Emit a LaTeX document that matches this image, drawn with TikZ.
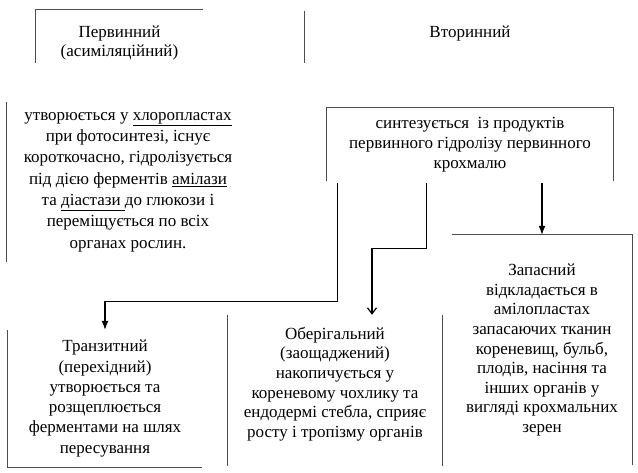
\documentclass[tikz,border=0pt]{standalone}
\usepackage{fontspec}
\setmainfont{Liberation Serif}
\usetikzlibrary{arrows.meta, positioning}

\begin{document}
\begin{tikzpicture}[x=1pt, y=-1pt]
\tikzstyle{box}=[inner sep=0pt, align=center, font=\fontsize{17}{20}\selectfont]
\tikzstyle{frame}=[-, draw=black!70, line width=0.8pt]
\tikzstyle{connect}=[-, black, line width=1.2pt]
\tikzstyle{fulltip}=[-{Latex[length=9pt, width=7pt]}]
\tikzstyle{opentip}=[-{Straight Barb[length=6pt, width=9pt]}]
\useasboundingbox (0,0) rectangle (638,473);
\node[box, font=\fontsize{17}{19}\selectfont, minimum width=167pt, minimum height=65pt] (prim) at (119.5,42.5) {Первинний\\(асиміляційний)};
\node[box, minimum width=330pt, minimum height=44pt] (sec) at (470,33) {Вторинний};
\node[box, font=\fontsize{17}{21.3}\selectfont, minimum width=242pt, minimum height=160pt] (first) at (128,182) {утворюється у \underline{хлоропластах}\\при фотосинтезі, існує\\короткочасно, гідролізується\\під дією ферментів \underline{амілази}\\та \underline{діастази\ }до глюкози і\\переміщується по всіх\\органах рослин.};
\node[box, minimum width=286pt, minimum height=73pt] (synth) at (470,144.5) {синтезується \ із продуктів\\первинного гідролізу первинного\\крохмалю};
\node[box, font=\fontsize{17}{20.3}\selectfont, minimum width=194pt, minimum height=137pt] (tranz) at (105,398.5) {Транзитний\\(перехідний)\\утворюється та\\розщеплюється\\ферментами на шлях\\пересування};
\node[box, font=\fontsize{17}{19.7}\selectfont, minimum width=214pt, minimum height=138pt] (oberig) at (335,384) {Оберігальний\\(заощаджений)\\накопичується у\\кореневому чохлику та\\ендодермі стебла, сприяє\\росту і тропізму органів};
\node[box, font=\fontsize{17}{19.6}\selectfont, minimum width=180pt, minimum height=230pt] (zapas) at (542,350) {Запасний\\відкладається в\\амілопластах\\запасаючих тканин\\кореневищ, бульб,\\плодів, насіння та\\інших органів у\\вигляді крохмальних\\зерен};
% frames
\draw[frame] ([yshift=-53pt]prim.north west) -- (prim.north west) -- (prim.north east);
\draw[frame] (sec.north west) -- ([yshift=-52pt]sec.north west);
\draw[frame] (first.north west) -- (first.south west);
\draw[frame] (synth.south west) -- (synth.north west) -- (synth.north east) -- (synth.south east);
\draw[frame] (tranz.north west) -- (tranz.south west) -- (tranz.south east);
\draw[frame] (oberig.north west) -- ([yshift=-13pt]oberig.south west);
\draw[frame] (oberig.north east) -- ([yshift=-13pt]oberig.south east);
\draw[frame] (zapas.north west) -- (zapas.north east) -- (zapas.south east);
% arrows
\draw[connect, fulltip, shorten <=2pt] ([xshift=11pt]synth.south west) -- ++(0,120) -| (tranz.north);
\draw[connect, opentip, shorten <=2pt] ([xshift=100pt]synth.south west) -- ++(0,67) -| ([xshift=37pt]oberig.north);
\draw[connect, fulltip, shorten <=2pt] (synth.south -| zapas.north) -- (zapas.north);
\end{tikzpicture}
\end{document}
